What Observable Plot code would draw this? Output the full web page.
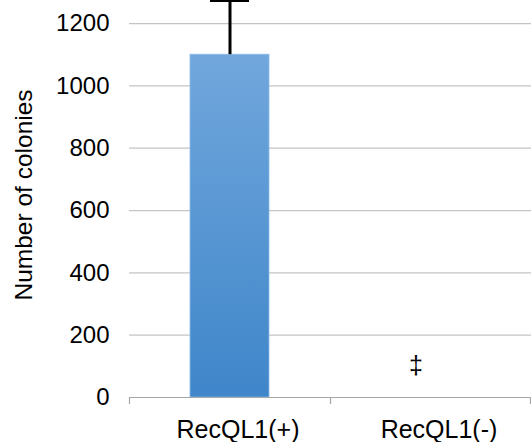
<!DOCTYPE html>
<html>
<head>
<meta charset="utf-8">
<script src="https://cdn.jsdelivr.net/npm/d3@7"></script>
<script src="https://cdn.jsdelivr.net/npm/@observablehq/plot@0.6"></script>
<style>
  html, body { margin: 0; padding: 0; background: #fff; }
  svg { display: block; }
</style>
</head>
<body>
<div id="chart"></div>
<script>
const categories = ["RecQL1(+)", "RecQL1(-)"];
const colonies = [1100, 0];
const errors = [174, 0];
const markerLabels = ["", "‡"];
const markerValues = [null, 100];
const yTicks = [0, 200, 400, 600, 800, 1000, 1200];

const data = categories.map((c, i) => ({
  cat: c, value: colonies[i], err: errors[i], mark: markerLabels[i], markY: markerValues[i]
}));
const withErr = data.filter(d => d.err > 0);
const withMark = data.filter(d => d.mark);

const font = "'Liberation Sans', Arial, Helvetica, sans-serif";

const plot = Plot.plot({
  width: 531,
  height: 442,
  marginTop: 0,
  marginBottom: 45,
  marginLeft: 129,
  marginRight: 0,
  style: { fontFamily: font, fontSize: "24px", color: "#000", background: "#fff", overflow: "visible" },
  x: { domain: categories, padding: 0, label: null },
  y: { domain: [0, 1274], label: null },
  marks: [
    Plot.ruleY(yTicks.filter(t => t > 0), { stroke: "#c4c4c4", strokeWidth: 1.2 }),
    Plot.barY(data.filter(d => d.value > 0), {
      x: "cat", y: "value", fill: "url(#barGrad)",
      stroke: "#8dbbe8", strokeWidth: 0.8, insetLeft: 61, insetRight: 61
    }),
    Plot.ruleY([0], { stroke: "#a6a6a6", strokeWidth: 1.2 }),
    Plot.ruleX(categories, { x: d => d, y1: 0, y2: 0, insetBottom: -7, dx: -100.5, stroke: "#a6a6a6", strokeWidth: 1.2 }),
    Plot.ruleX(categories.slice(-1), { x: d => d, y1: 0, y2: 0, insetBottom: -7, dx: 99.5, stroke: "#a6a6a6", strokeWidth: 1.2 }),
    Plot.ruleX(withErr, { x: "cat", y1: "value", y2: d => d.value + d.err, stroke: "#000", strokeWidth: 3 }),
    Plot.tickY(withErr, { x: "cat", y: d => d.value + d.err, stroke: "#000", strokeWidth: 3, insetLeft: 81, insetRight: 81 }),
    Plot.text(withMark, { x: "cat", y: "markY", text: "mark", fontSize: 25, dx: -15, dy: 0, fill: "#000" }),
    Plot.axisY({ ticks: yTicks, tickSize: 0, tickPadding: 20, fontSize: 24, tickFormat: d => String(d) }),
    Plot.axisX({ tickSize: 0, tickPadding: 23, dx: 8, fontSize: 25 }),
    Plot.text(["Number of colonies"], {
      frameAnchor: "left", textAnchor: "middle", dx: -105, rotate: -90, fontSize: 24.5, fill: "#000",
      y: () => 650
    })
  ]
});

const svg = d3.select(plot);
const defs = svg.insert("defs", ":first-child");
const g = defs.append("linearGradient").attr("id", "barGrad")
  .attr("x1", 0).attr("y1", 0).attr("x2", 0).attr("y2", 1);
g.append("stop").attr("offset", "0%").attr("stop-color", "#71a7dc");
g.append("stop").attr("offset", "100%").attr("stop-color", "#3f86ca");

document.getElementById("chart").appendChild(plot);
</script>
</body>
</html>
